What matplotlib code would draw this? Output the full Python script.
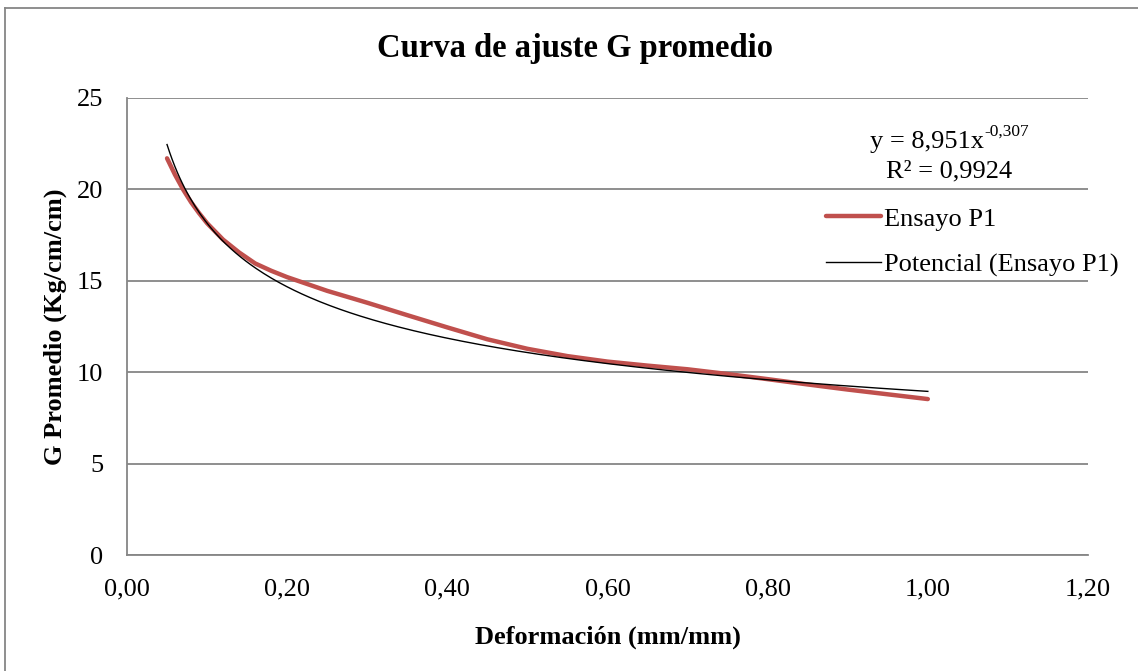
import matplotlib
matplotlib.use('Agg')
import matplotlib.pyplot as plt
import numpy as np
from matplotlib.lines import Line2D

plt.rcParams['font.family'] = ['Liberation Serif', 'DejaVu Serif']

# deformation (mm/mm) and measured G promedio (Kg/cm/cm)
deformacion = [0.05, 0.06, 0.07, 0.08, 0.09, 0.10, 0.12, 0.14, 0.16, 0.18,
               0.20, 0.25, 0.30, 0.35, 0.40, 0.45, 0.50, 0.55, 0.60, 0.65,
               0.70, 0.75, 0.80, 0.85, 0.90, 0.95, 1.00]
g_promedio = [21.7, 20.8, 20.0, 19.3, 18.7, 18.15, 17.25, 16.55, 15.95, 15.55,
              15.2, 14.45, 13.8, 13.12, 12.45, 11.8, 11.28, 10.88, 10.58, 10.36,
              10.16, 9.9, 9.62, 9.33, 9.05, 8.79, 8.53]

# power trendline shown on the chart: y = a * x^b
fit_a = 8.951
fit_b = -0.307

x_ticks = [0.0, 0.2, 0.4, 0.6, 0.8, 1.0, 1.2]
y_ticks = [0, 5, 10, 15, 20, 25]

W, H = 1138, 671
fig = plt.figure(figsize=(W / 100, H / 100), dpi=100)
ax = fig.add_axes([127 / W, 1 - 555 / H, (1088 - 127) / W, (555 - 98) / H])

grid_col = '#868686'
red = '#C0504D'
fs = 19

ax.plot(deformacion, g_promedio, color=red, lw=3.2, solid_capstyle='round',
        label='Ensayo P1', zorder=3)
xt = np.linspace(min(deformacion), max(deformacion), 300)
ax.plot(xt, fit_a * xt ** fit_b, color='black', lw=1.0,
        label='Potencial (Ensayo P1)', zorder=4)

ax.set_xlim(0, 1.2)
ax.set_ylim(0, 25)
ax.set_xticks(x_ticks)
ax.set_yticks(y_ticks)
ax.set_xticklabels([f'{v:.2f}'.replace('.', ',') for v in x_ticks])
ax.set_yticklabels([str(v) for v in y_ticks])
ax.tick_params(length=0, labelsize=fs)
ax.tick_params(axis='x', pad=17)
ax.tick_params(axis='y', pad=17)
ax.yaxis.grid(True, color=grid_col, lw=1.3)
ax.set_axisbelow(True)
for s in ['top', 'right']:
    ax.spines[s].set_visible(False)
for s in ['left', 'bottom']:
    ax.spines[s].set_color(grid_col)
    ax.spines[s].set_linewidth(1.3)

ax.set_xlabel('Deformación (mm/mm)', fontsize=fs, fontweight='bold', labelpad=18)
ax.set_ylabel('G Promedio (Kg/cm/cm)', fontsize=fs, fontweight='bold', labelpad=7)
fig.text(0.505, 1 - 48 / H, 'Curva de ajuste G promedio', fontsize=23.5,
         fontweight='bold', ha='center', va='center')

# trendline equation with superscript exponent
eq = fig.text(870 / W, 1 - 142 / H, 'y = 8,951x', fontsize=fs, ha='left', va='center')
ax.annotate('-0,307', xy=(1.0, 0.62), xycoords=eq, fontsize=12.5,
            ha='left', va='bottom')
fig.text(949 / W, 1 - 171 / H, 'R² = 0,9924', fontsize=fs, ha='center', va='center')

ax.legend(loc='center left', bbox_to_anchor=(826 / W, 1 - 242 / H),
          bbox_transform=fig.transFigure, frameon=False, fontsize=fs,
          handlelength=2.1, handletextpad=0.1, labelspacing=0.85, borderpad=0,
          borderaxespad=0)

# chart outer border
fig.add_artist(Line2D([5 / W, 1.0], [1 - 8 / H, 1 - 8 / H], color=grid_col, lw=1.3,
                      transform=fig.transFigure))
fig.add_artist(Line2D([5 / W, 5 / W], [0, 1 - 8 / H], color=grid_col, lw=1.3,
                      transform=fig.transFigure))

fig.savefig('out.png', dpi=100)
